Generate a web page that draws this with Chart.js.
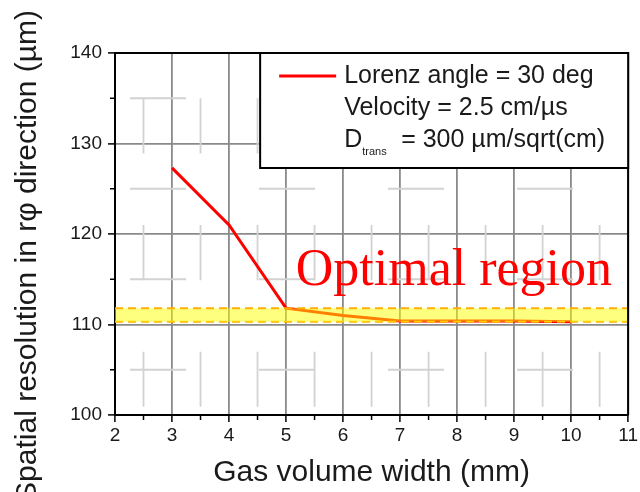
<!DOCTYPE html>
<html>
<head>
<meta charset="utf-8">
<script src="https://cdn.jsdelivr.net/npm/chart.js@4.4.0/dist/chart.umd.min.js"></script>
<style>
html,body{margin:0;padding:0;background:#fff;}
#myChart{display:block;}
</style>
</head>
<body>
<canvas id="myChart" width="640" height="492"></canvas>
<script>
'use strict';
let widthValues=[3,4,5,6,7,8,9,10];
let resolutionValues=[127.3,121.0,111.8,111.0,110.4,110.4,110.4,110.3];
let bandX=[2,11];
let bandTop=[111.8,111.8];
let bandBottom=[110.3,110.3];
let xTicks=[2,3,4,5,6,7,8,9,10,11];
let yTicks=[100,110,120,130,140];
let legendLines=['Lorenz angle = 30 deg','Velocity = 2.5 cm/µs','D','trans','= 300 µm/sqrt(cm)'];
let noteText='Optimal region';
let noteX=5.17;
let noteY=114.4;

let textColor='#1a1a1a';
Chart.defaults.font.family='"Liberation Sans", Arial, sans-serif';

function toPoints(xs,ys){
  let arr=[];
  for(let i=0;i<xs.length;i++){
    arr.push({x:xs[i],y:ys[i]});
  }
  return arr;
}

let extras={
  id:'extras',
  beforeDatasetsDraw(chart){
    let ctx=chart.ctx;
    let a=chart.chartArea;
    let xs=chart.scales.x;
    let ys=chart.scales.y;
    ctx.save();
    // broken light minor grid
    ctx.strokeStyle='#d2d2d2';
    ctx.lineWidth=1.8;
    let vStartPx=ys.getPixelForValue(135);
    let vLen=ys.getPixelForValue(128.9)-vStartPx;
    let vPeriod=ys.getPixelForValue(121)-vStartPx;
    ctx.setLineDash([vLen,vPeriod-vLen]);
    ctx.lineDashOffset=vPeriod-(vStartPx-a.top);
    for(let i=0;i<xTicks.length-1;i++){
      let px=xs.getPixelForValue(xTicks[i]+0.5);
      ctx.beginPath();
      ctx.moveTo(px,a.top);
      ctx.lineTo(px,a.bottom);
      ctx.stroke();
    }
    let hStartPx=xs.getPixelForValue(2.263);
    let hLen=xs.getPixelForValue(3.245)-hStartPx;
    let hPeriod=xs.getPixelForValue(4.526)-hStartPx;
    ctx.setLineDash([hLen,hPeriod-hLen]);
    ctx.lineDashOffset=hPeriod-(hStartPx-a.left);
    for(let i=0;i<yTicks.length-1;i++){
      let py=ys.getPixelForValue(yTicks[i]+5);
      ctx.beginPath();
      ctx.moveTo(a.left,py);
      ctx.lineTo(a.right,py);
      ctx.stroke();
    }
    // minor ticks
    ctx.setLineDash([]);
    ctx.strokeStyle='#000';
    ctx.lineWidth=1.5;
    for(let i=0;i<xTicks.length-1;i++){
      let px=xs.getPixelForValue(xTicks[i]+0.5);
      ctx.beginPath();
      ctx.moveTo(px,a.bottom);
      ctx.lineTo(px,a.bottom+5);
      ctx.stroke();
    }
    for(let i=0;i<yTicks.length-1;i++){
      let py=ys.getPixelForValue(yTicks[i]+5);
      ctx.beginPath();
      ctx.moveTo(a.left-5,py);
      ctx.lineTo(a.left,py);
      ctx.stroke();
    }
    ctx.restore();
  },
  afterDatasetsDraw(chart){
    let ctx=chart.ctx;
    let a=chart.chartArea;
    let xs=chart.scales.x;
    let ys=chart.scales.y;
    ctx.save();
    // frame
    ctx.strokeStyle='#000';
    ctx.lineWidth=2;
    ctx.beginPath();
    ctx.moveTo(a.left,a.top);
    ctx.lineTo(a.right,a.top);
    ctx.lineTo(a.right,a.bottom);
    ctx.stroke();
    // legend box
    let bx=a.right-368;
    let by=a.top;
    ctx.fillStyle='#fff';
    ctx.fillRect(bx,by,368,115);
    ctx.strokeRect(bx,by,368,115);
    ctx.strokeStyle='#ff0000';
    ctx.lineWidth=3;
    ctx.beginPath();
    ctx.moveTo(bx+19,by+23);
    ctx.lineTo(bx+76,by+23);
    ctx.stroke();
    ctx.fillStyle=textColor;
    ctx.textAlign='left';
    ctx.textBaseline='alphabetic';
    ctx.font='25px "Liberation Sans", Arial, sans-serif';
    ctx.fillText(chart.data.datasets[0].label,bx+84,by+30);
    ctx.fillText(legendLines[1],bx+84,by+62);
    ctx.fillText(legendLines[2],bx+84,by+94);
    let dW=ctx.measureText(legendLines[2]).width;
    ctx.fillText(legendLines[4],bx+141,by+94);
    ctx.font='11px "Liberation Sans", Arial, sans-serif';
    ctx.fillText(legendLines[3],bx+84+dW,by+102);
    // annotation
    ctx.fillStyle='#ff0000';
    ctx.font='52px "Liberation Serif", "Times New Roman", serif';
    ctx.fillText(noteText,xs.getPixelForValue(noteX),ys.getPixelForValue(noteY));
    // y title
    ctx.fillStyle=textColor;
    ctx.font='30px "Liberation Sans", Arial, sans-serif';
    ctx.translate(36,10);
    ctx.rotate(-Math.PI/2);
    ctx.textAlign='right';
    ctx.fillText('Spatial resolution in rφ direction (µm)',0,0);
    ctx.restore();
  }
};

let ctx=document.getElementById('myChart');
let myChart=new Chart(ctx,{
  type:'line',
  data:{
    datasets:[{
      label:legendLines[0],
      data:toPoints(widthValues,resolutionValues),
      borderColor:'#ff0000',
      borderWidth:3,
      pointRadius:0,
      fill:false,
      tension:0,
      order:1
    },{
      label:'band top',
      data:toPoints(bandX,bandTop),
      borderColor:'#ffb000',
      borderWidth:2,
      borderDash:[8,5],
      backgroundColor:'rgba(255,255,0,0.5)',
      pointRadius:0,
      fill:'+1',
      order:0
    },{
      label:'band bottom',
      data:toPoints(bandX,bandBottom),
      borderColor:'#ffb000',
      borderWidth:2,
      borderDash:[8,5],
      pointRadius:0,
      fill:false,
      order:0
    }]
  },
  options:{
    responsive:false,
    animation:false,
    layout:{padding:{left:0,top:53,right:11,bottom:0}},
    plugins:{
      legend:{display:false},
      tooltip:{enabled:false}
    },
    scales:{
      x:{
        type:'linear',
        min:xTicks[0],
        max:xTicks[xTicks.length-1],
        afterFit:function(scale){scale.height=77;},
        ticks:{stepSize:xTicks[1]-xTicks[0],padding:2,color:textColor,font:{size:19}},
        grid:{color:'#8a8a8a',lineWidth:1.8,tickColor:'#000',tickLength:7,tickWidth:1.5},
        border:{color:'#000',width:2},
        title:{display:true,text:'Gas volume width (mm)',color:textColor,font:{size:30},padding:{top:0,bottom:1}}
      },
      y:{
        min:yTicks[0],
        max:yTicks[yTicks.length-1],
        afterFit:function(scale){scale.width=115;},
        ticks:{stepSize:yTicks[1]-yTicks[0],padding:6,color:textColor,font:{size:19}},
        grid:{color:'#8a8a8a',lineWidth:1.8,tickColor:'#000',tickLength:7,tickWidth:1.5},
        border:{color:'#000',width:2}
      }
    }
  },
  plugins:[extras]
});
</script>
</body>
</html>
